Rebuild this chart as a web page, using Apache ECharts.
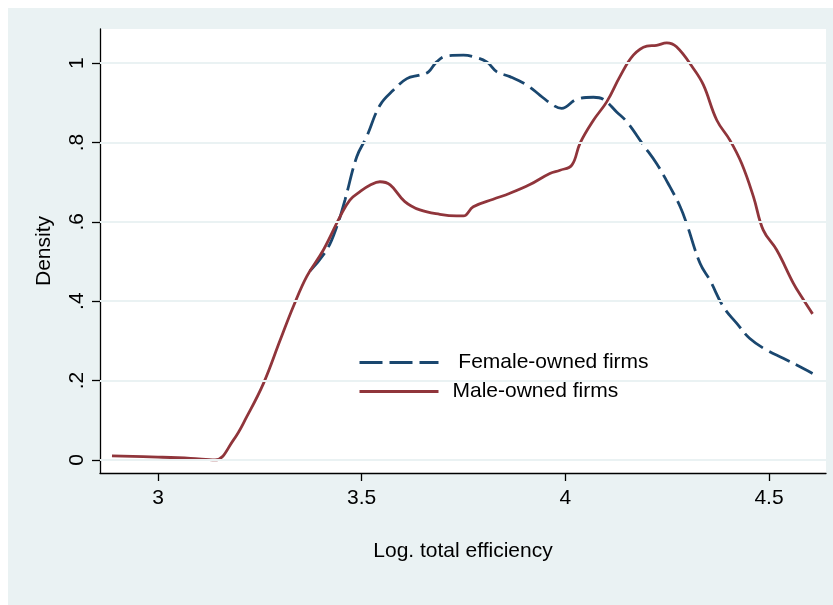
<!DOCTYPE html>
<html>
<head>
<meta charset="utf-8">
<script src="https://cdn.jsdelivr.net/npm/echarts@6/dist/echarts.min.js"></script>
<style>
  html, body { margin: 0; padding: 0; background: #ffffff; }
  #frame { position: absolute; left: 8px; top: 8px; right: 0; bottom: 0; background: #EAF2F3; }
  #chart { position: absolute; left: 0; top: 0; width: 833px; height: 605px; }
</style>
</head>
<body>
<div id="frame"></div>
<div id="chart"></div>
<script>
// Kernel density estimates of log total efficiency, by owner gender
const seriesNames = [' Female-owned firms', 'Male-owned firms'];

const femaleX = [3.373, 3.414, 3.439, 3.459, 3.488, 3.512, 3.545, 3.578, 3.611, 3.643,
  3.664, 3.684, 3.709, 3.750, 3.774, 3.807, 3.832, 3.864, 3.905, 3.938,
  3.970, 3.991, 4.028, 4.069, 4.093, 4.126, 4.151, 4.192, 4.224, 4.257,
  4.282, 4.298, 4.331, 4.355, 4.388, 4.421, 4.453, 4.494, 4.535, 4.568, 4.607];
const femaleY = [0.476, 0.529, 0.588, 0.655, 0.764, 0.814, 0.894, 0.932, 0.961, 0.970,
  0.978, 1.003, 1.018, 1.020, 1.016, 1.003, 0.978, 0.966, 0.945, 0.919,
  0.894, 0.886, 0.909, 0.914, 0.909, 0.877, 0.852, 0.793, 0.747, 0.688,
  0.638, 0.595, 0.495, 0.453, 0.386, 0.344, 0.306, 0.277, 0.256, 0.239, 0.218];

const maleX = [2.887, 3.000, 3.080, 3.140, 3.185, 3.218, 3.259, 3.300, 3.332, 3.365,
  3.406, 3.447, 3.471, 3.496, 3.520, 3.545, 3.570, 3.606, 3.643, 3.692,
  3.733, 3.750, 3.774, 3.823, 3.864, 3.913, 3.962, 3.987, 4.016, 4.036,
  4.069, 4.102, 4.134, 4.167, 4.200, 4.224, 4.249, 4.273, 4.314, 4.339,
  4.372, 4.404, 4.433, 4.462, 4.486, 4.519, 4.560, 4.580, 4.607];
const maleY = [0.010, 0.007, 0.004, 0.000, 0.050, 0.109, 0.193, 0.302, 0.386, 0.462,
  0.529, 0.613, 0.655, 0.676, 0.692, 0.701, 0.693, 0.651, 0.630, 0.619,
  0.615, 0.615, 0.638, 0.657, 0.672, 0.694, 0.722, 0.730, 0.743, 0.798,
  0.856, 0.903, 0.966, 1.020, 1.043, 1.045, 1.051, 1.041, 0.987, 0.945,
  0.856, 0.806, 0.747, 0.663, 0.579, 0.529, 0.445, 0.411, 0.368];

const xTicks = [3, 3.5, 4, 4.5];
const yTicks = [0, 0.2, 0.4, 0.6, 0.8, 1];

const xRange = [2.8576, 4.640];
const yRange = [-0.033, 1.086];

const pair = (xs, ys) => xs.map((x, i) => [x, ys[i]]);
const font = '"Liberation Sans", Arial, sans-serif';
const ink = '#000000';

const chart = echarts.init(document.getElementById('chart'), null, { renderer: 'canvas' });
chart.setOption({
  backgroundColor: 'transparent',
  animation: false,
  textStyle: { fontFamily: font },
  grid: {
    left: 100, top: 29, right: 7, bottom: 132,
    show: true, backgroundColor: '#ffffff', borderWidth: 0
  },
  xAxis: {
    type: 'value',
    min: xRange[0], max: xRange[1],
    name: 'Log. total efficiency',
    nameLocation: 'middle', nameGap: 68,
    nameTextStyle: { fontSize: 21, color: ink, fontFamily: font },
    axisLine: { show: true, onZero: false, lineStyle: { color: ink, width: 1.3 } },
    axisTick: { show: true, length: 8, customValues: xTicks, lineStyle: { color: ink, width: 1.3 } },
    axisLabel: { customValues: xTicks, fontSize: 21, color: ink, margin: 15, fontFamily: font,
      formatter: v => String(v) },
    splitLine: { show: false }
  },
  yAxis: {
    type: 'value',
    min: yRange[0], max: yRange[1],
    name: 'Density',
    nameLocation: 'middle', nameGap: 45,
    nameRotate: 90,
    nameTextStyle: { fontSize: 21, color: ink, fontFamily: font },
    axisLine: { show: true, onZero: false, lineStyle: { color: ink, width: 1.3 } },
    axisTick: { show: true, length: 8, customValues: yTicks, lineStyle: { color: ink, width: 1.3 } },
    axisLabel: { customValues: yTicks, fontSize: 21, color: ink, margin: 12, rotate: 90,
      fontFamily: font,
      formatter: v => (v === 0 ? '0' : v === 1 ? '1' : String(+v.toFixed(1)).replace(/^0/, '')) },
    splitLine: { show: false }
  },
  legend: {
    data: seriesNames,
    orient: 'vertical',
    left: 349, top: 344,
    backgroundColor: '#ffffff',
    padding: [8, 18, 8, 9],
    itemWidth: 79, itemHeight: 21, itemGap: 8,
    itemStyle: { opacity: 0 },
    lineStyle: { width: 3 },
    textStyle: { fontSize: 21, color: ink, fontFamily: font, lineHeight: 21, padding: [0, 0, 0, 9] }
  },
  series: [
    {
      // horizontal reference lines at each y tick
      type: 'line', name: 'grid', z: 1, silent: true,
      data: [[xTicks[0], yTicks[0]]], symbol: 'none',
      lineStyle: { width: 0 },
      markLine: {
        silent: true, symbol: ['none', 'none'], label: { show: false },
        lineStyle: { color: '#EAF2F3', width: 2, type: 'solid' },
        data: yTicks.map(v => ({ yAxis: v }))
      }
    },
    {
      name: seriesNames[0], type: 'line', z: 3,
      data: pair(femaleX, femaleY),
      symbol: 'none', smooth: 0.4,
      lineStyle: { color: '#1A476F', width: 2.8, type: [23, 7] },
      itemStyle: { color: '#1A476F' }
    },
    {
      name: seriesNames[1], type: 'line', z: 3,
      data: pair(maleX, maleY),
      symbol: 'none', smooth: 0.4,
      lineStyle: { color: '#90353B', width: 2.8, type: 'solid' },
      itemStyle: { color: '#90353B' }
    }
  ]
});
</script>
</body>
</html>
